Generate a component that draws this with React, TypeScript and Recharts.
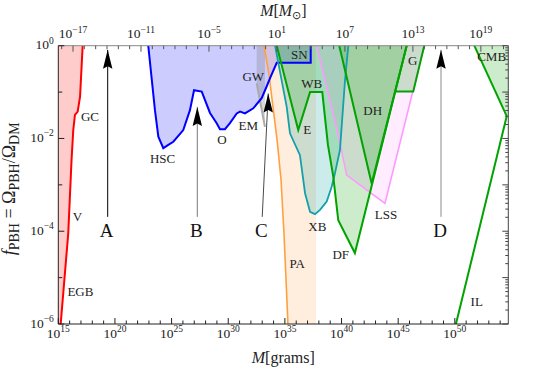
import React from "react";
import { ComposedChart, XAxis, YAxis, Area, Line, Scatter } from "recharts";

const SERIF = '"Liberation Serif", "Times New Roman", serif';
const LOG_MSUN = 33.2986; // log10 of solar mass in grams

// all values are log10: x = log10(M / grams), y = log10(f_PBH)
const gramDomain = [15, 54.72];
const solarDomain = [gramDomain[0] - LOG_MSUN, gramDomain[1] - LOG_MSUN];
const gramTicks = Array.from({ length: 40 }, (_, i) => 15 + i);
const solarTicks = Array.from({ length: 40 }, (_, i) => -18 + i);
const fTicks = [-6, -5, -4, -3, -2, -1, 0];
const rightTicks: number[] = [0];
for (let n = -6; n < 0; n++) for (let k = 1; k <= 9; k++) rightTicks.push(n + Math.log10(k));

// evaporation (EGB, V, GC)
const evaporation = [
  { x: 15, y: -6 },
  { x: 15.21, y: -6 },
  { x: 15.88, y: -4.04 },
  { x: 16.17, y: -2.46 },
  { x: 16.32, y: -1.82 },
  { x: 16.47, y: -1.49 },
  { x: 16.71, y: -1.42 },
  { x: 16.92, y: -1.1 },
  { x: 17.15, y: 0 },
];

// microlensing (HSC, O, EM) and SN box
const lensing = [
  { x: 22.94, y: 0 },
  { x: 23.53, y: -1.39 },
  { x: 23.83, y: -1.96 },
  { x: 24.27, y: -2.21 },
  { x: 24.71, y: -2.14 },
  { x: 25.15, y: -2.07 },
  { x: 26.03, y: -1.82 },
  { x: 26.62, y: -1.39 },
  { x: 26.98, y: -0.96 },
  { x: 27.66, y: -0.99 },
  { x: 28.39, y: -1.45 },
  { x: 28.98, y: -1.67 },
  { x: 29.27, y: -1.8 },
  { x: 29.71, y: -1.8 },
  { x: 30.15, y: -1.67 },
  { x: 30.75, y: -1.46 },
  { x: 31.04, y: -1.42 },
  { x: 31.48, y: -1.46 },
  { x: 32.21, y: -1.35 },
  { x: 32.95, y: -1.13 },
  { x: 33.39, y: -0.88 },
  { x: 33.69, y: -0.7 },
  { x: 34.28, y: -0.37 },
  { x: 37.28, y: -0.37 },
  { x: 37.28, y: 0 },
];

const gravWaves = [
  { x: 32.51, y: -0.81 },
  { x: 33.24, y: -1.75 },
];

const accretionPA = [
  { x: 33.16, y: 0 },
  { x: 33.6, y: -0.63 },
  { x: 34.31, y: -2.03 },
  { x: 34.66, y: -2.89 },
  { x: 34.92, y: -4.04 },
  { x: 35.27, y: -6 },
  { x: 37.74, y: -6 },
];

const xrayBinaries = [
  { x: 34.13, y: 0 },
  { x: 35.16, y: -1.32 },
  { x: 35.45, y: -1.89 },
  { x: 36.33, y: -2.36 },
  { x: 36.78, y: -3.18 },
  { x: 37.22, y: -3.58 },
  { x: 37.66, y: -3.63 },
  { x: 38.1, y: -3.54 },
  { x: 38.69, y: -3.36 },
  { x: 39.13, y: -3.04 },
  { x: 39.42, y: -2.75 },
  { x: 39.86, y: -2.25 },
  { x: 40.31, y: -0.74 },
  { x: 40.6, y: 0 },
];

const largeScale = [
  { x: 37.81, y: 0 },
  { x: 39.8, y: -2.03 },
  { x: 40.45, y: -2.79 },
  { x: 43.83, y: -3.4 },
  { x: 47.3, y: 0 },
];

// E, WB, DF
const dynamical = [
  { x: 34.28, y: 0 },
  { x: 36.18, y: -1.82 },
  { x: 37.22, y: -1.0 },
  { x: 38.3, y: -1.0 },
  { x: 38.8, y: -2.14 },
  { x: 39.27, y: -2.82 },
  { x: 39.71, y: -3.76 },
  { x: 41.18, y: -4.47 },
  { x: 45.75, y: 0 },
];

const dwarfHalo = [
  { x: 39.8, y: 0 },
  { x: 42.66, y: -2.97 },
  { x: 45.75, y: 0 },
];

const galaxies = [
  { x: 44.72, y: -0.99, top: -0.99 },
  { x: 45.75, y: -0.99 },
  { x: 46.33, y: -0.99 },
  { x: 47.3, y: 0 },
];

const cmb = [
  { x: 51.72, y: 0 },
  { x: 54.58, y: -1.52 },
  { x: 54.72, y: -1.55 },
];

const ilLine = [
  { x: 50.1, y: -6 },
  { x: 54.58, y: -1.52 },
];

const regionLabels = [
  { x: 17.8, y: -1.52, text: "GC" },
  { x: 16.68, y: -3.69, text: "V" },
  { x: 16.95, y: -5.3, text: "EGB" },
  { x: 24.21, y: -2.43, text: "HSC" },
  { x: 29.45, y: -2.03, text: "O" },
  { x: 31.77, y: -1.71, text: "EM" },
  { x: 32.21, y: -0.67, text: "GW" },
  { x: 36.27, y: -0.2, text: "SN" },
  { x: 37.37, y: -0.81, text: "WB" },
  { x: 36.98, y: -1.8, text: "E" },
  { x: 42.75, y: -1.39, text: "DH" },
  { x: 46.28, y: -0.31, text: "G" },
  { x: 53.25, y: -0.24, text: "CMB" },
  { x: 37.86, y: -3.89, text: "XB" },
  { x: 36.09, y: -4.69, text: "PA" },
  { x: 39.93, y: -4.5, text: "DF" },
  { x: 43.92, y: -3.63, text: "LSS" },
  { x: 51.93, y: -5.52, text: "IL" },
];

const arrowNames = ["A", "B", "C", "D"];
const arrowBase = [
  { x: 19.36, y: -3.69 },
  { x: 27.27, y: -3.69 },
  { x: 33.0, y: -3.69 },
  { x: 48.78, y: -3.69 },
];
const arrowTip = [
  { x: 19.36, y: -0.09 },
  { x: 27.27, y: -1.32 },
  { x: 33.53, y: -1.03 },
  { x: 48.78, y: -0.09 },
];
const arrowColors = ["#000000", "#7a7a7a", "#4a4a4a", "#8a8a8a"];

// corners of the solar-mass axis so that it has something bound to it
const solarFrame = [
  { x: solarDomain[0], y: -6 },
  { x: solarDomain[1], y: 0 },
];

const band = (d: any) => [d.y, d.top ?? 0];
const exp = (n: number) => (n < 0 ? "\u2212" + Math.abs(n) : String(n));

const TICK_FS = 13.5;
const SUP_FS = 9.5;

const BottomTick = (p: any) => {
  const v = Math.round(p.payload.value);
  const major = v % 5 === 0;
  return (
    <g>
      <line x1={p.x} x2={p.x} y1={p.y} y2={p.y - (major ? 6 : 3.5)} stroke="#222" />
      {major && (
        <text x={p.x} y={p.y + 13.5} textAnchor="middle" fontSize={TICK_FS} fontFamily={SERIF} fill="#222">
          10<tspan dy={-5.5} fontSize={SUP_FS}>{exp(v)}</tspan>
        </text>
      )}
    </g>
  );
};

const TopTick = (p: any) => {
  const v = Math.round(p.payload.value);
  const major = (((v + 17) % 6) + 6) % 6 === 0;
  return (
    <g>
      <line x1={p.x} x2={p.x} y1={p.y} y2={p.y + (major ? 6 : 3.5)} stroke="#555" />
      {major && (
        <text x={p.x} y={p.y - 7.5} textAnchor="middle" fontSize={TICK_FS} fontFamily={SERIF} fill="#222">
          10<tspan dy={-5.5} fontSize={SUP_FS}>{exp(v)}</tspan>
        </text>
      )}
    </g>
  );
};

const LeftTick = (p: any) => {
  const v = Math.round(p.payload.value);
  const labeled = v % 2 === 0;
  return (
    <g>
      <line x1={p.x} x2={p.x + (labeled ? 6 : 4)} y1={p.y} y2={p.y} stroke="#222" />
      {labeled && (
        <text x={p.x - 4.5} y={p.y + 3.5} textAnchor="end" fontSize={TICK_FS} fontFamily={SERIF} fill="#222">
          10<tspan dy={-5.5} fontSize={SUP_FS}>{exp(v)}</tspan>
        </text>
      )}
    </g>
  );
};

const RightTick = (p: any) => {
  const v = p.payload.value;
  const major = Math.abs(v - Math.round(v)) < 1e-6;
  return <line x1={p.x} x2={p.x - (major ? 6 : 3)} y1={p.y} y2={p.y} stroke="#444" />;
};

const RegionLabel = (p: any) => (
  <text x={p.cx} y={p.cy} textAnchor="middle" dominantBaseline="central" fontSize={13} fontFamily={SERIF} fill="#222">
    {p.payload.text}
  </text>
);

const ArrowDot = (p: any) => {
  if (p.index === 1) {
    const { cx, cy } = p;
    return (
      <path
        key={`tip-${cx}`}
        d={`M${cx},${cy} L${cx - 4.7},${cy + 19} L${cx},${cy + 16.5} L${cx + 4.7},${cy + 19} Z`}
        fill="#000"
      />
    );
  }
  return (
    <text key={`lab-${p.cx}`} x={p.cx - 1} y={p.cy + 14} textAnchor="middle" dominantBaseline="central" fontSize={19} fontFamily={SERIF} fill="#111">
      {p.payload.label}
    </text>
  );
};

const BottomTitle = (p: any) => {
  const vb = p.viewBox || { x: 58.3, y: 324, width: 450 };
  return (
    <text x={vb.x + vb.width / 2} y={vb.y + 39} textAnchor="middle" fontSize={16} fontFamily={SERIF} fill="#222">
      <tspan fontStyle="italic">M</tspan>[grams]
    </text>
  );
};

const TopTitle = (p: any) => {
  const vb = p.viewBox || { x: 58.3, y: 15.7, width: 450, height: 30 };
  return (
    <text x={vb.x + vb.width / 2} y={vb.y + vb.height - 30} textAnchor="middle" fontSize={16} fontFamily={SERIF} fill="#222">
      <tspan fontStyle="italic">M</tspan>[<tspan fontStyle="italic">M</tspan>
      <tspan dy={3} fontSize={11}>{"\u2299"}</tspan>
      <tspan dy={-3}>]</tspan>
    </text>
  );
};

const LeftTitle = (p: any) => {
  const vb = p.viewBox || { x: 8.3, y: 45.7, width: 50, height: 278.3 };
  const cx = vb.x + 7;
  const cy = vb.y + vb.height / 2 + 4;
  return (
    <text transform={`rotate(-90 ${cx} ${cy})`} x={cx} y={cy} textAnchor="middle" fontSize={18} fontFamily={SERIF} fill="#222">
      <tspan fontStyle="italic">f</tspan>
      <tspan dy={3.5} fontSize={14}>PBH</tspan>
      <tspan dy={-3.5}>{" = \u03A9"}</tspan>
      <tspan dy={3.5} fontSize={14}>PBH</tspan>
      <tspan dy={-3.5}>/{"\u03A9"}</tspan>
      <tspan dy={3.5} fontSize={14}>DM</tspan>
    </text>
  );
};

const fills = [
  { data: evaporation, color: "#ff0000", op: 0.2 },
  { data: lensing, color: "#0000ff", op: 0.2 },
  { data: gravWaves, color: "#808080", op: 0.3 },
  { data: accretionPA, color: "#ff9a40", op: 0.18 },
  { data: xrayBinaries, color: "#00a0a0", op: 0.2 },
  { data: largeScale, color: "#ff66ff", op: 0.12 },
  { data: dynamical, color: "#00a000", op: 0.2 },
  { data: dwarfHalo, color: "#00a000", op: 0.2 },
  { data: galaxies, color: "#00a000", op: 0.2 },
  { data: cmb, color: "#00a000", op: 0.2 },
];

const outlines = [
  { data: accretionPA.slice(0, 6), color: "#ffa040", w: 1.6 },
  { data: largeScale, color: "#ff99ff", w: 1.6 },
  { data: gravWaves, color: "#aaaaaa", w: 2 },
  { data: evaporation.slice(1), color: "#ff0000", w: 2 },
  { data: lensing, color: "#0000ff", w: 2 },
  { data: xrayBinaries, color: "#14a0a8", w: 1.8 },
  { data: dynamical, color: "#00a300", w: 2 },
  { data: dwarfHalo, color: "#00a300", w: 2 },
  { data: galaxies, color: "#00a300", w: 2 },
  { data: cmb.slice(0, 2), color: "#00a300", w: 2 },
  { data: ilLine, color: "#00a300", w: 2 },
];

export default function App() {
  return (
    <div style={{ position: "absolute", left: 0, top: 0, background: "#fff" }}>
      <ComposedChart width={540} height={372} margin={{ top: 15.7, right: 21.7, bottom: 18, left: 8.3 }}>
        <XAxis
          xAxisId="g"
          type="number"
          dataKey="x"
          domain={gramDomain}
          allowDataOverflow
          ticks={gramTicks}
          interval={0}
          tickSize={0}
          tickMargin={0}
          tickLine={false}
          tick={BottomTick}
          axisLine={{ stroke: "#222" }}
          height={30}
          label={BottomTitle}
        />
        <XAxis
          xAxisId="sun"
          orientation="top"
          type="number"
          dataKey="x"
          domain={solarDomain}
          allowDataOverflow
          ticks={solarTicks}
          interval={0}
          tickSize={0}
          tickMargin={0}
          tickLine={false}
          tick={TopTick}
          axisLine={{ stroke: "#888" }}
          height={30}
          label={TopTitle}
        />
        <YAxis
          yAxisId="f"
          type="number"
          domain={[-6, 0]}
          allowDataOverflow
          ticks={fTicks}
          interval={0}
          tickSize={0}
          tickMargin={0}
          tickLine={false}
          tick={LeftTick}
          axisLine={{ stroke: "#222" }}
          width={50}
          label={LeftTitle}
        />
        <YAxis
          yAxisId="r"
          orientation="right"
          type="number"
          domain={[-6, 0]}
          allowDataOverflow
          ticks={rightTicks}
          interval={0}
          tickSize={0}
          tickMargin={0}
          tickLine={false}
          tick={RightTick}
          axisLine={{ stroke: "#444" }}
          width={10}
        />
        <Line
          data={solarFrame}
          dataKey="y"
          xAxisId="sun"
          yAxisId="r"
          stroke="none"
          dot={false}
          activeDot={false}
          isAnimationActive={false}
        />
        {fills.map((f, i) => (
          <Area
            key={`fill-${i}`}
            data={f.data}
            dataKey={band}
            xAxisId="g"
            yAxisId="f"
            type="linear"
            stroke="none"
            fill={f.color}
            fillOpacity={f.op}
            activeDot={false}
            isAnimationActive={false}
          />
        ))}
        {outlines.map((o, i) => (
          <Line
            key={`line-${i}`}
            data={o.data}
            dataKey="y"
            xAxisId="g"
            yAxisId="f"
            type="linear"
            stroke={o.color}
            strokeWidth={o.w}
            dot={false}
            activeDot={false}
            isAnimationActive={false}
          />
        ))}
        {arrowNames.map((name, i) => (
          <Line
            key={`arrow-${name}`}
            data={[{ ...arrowBase[i], label: name }, arrowTip[i]]}
            dataKey="y"
            xAxisId="g"
            yAxisId="f"
            type="linear"
            stroke={arrowColors[i]}
            strokeWidth={1}
            dot={ArrowDot}
            activeDot={false}
            isAnimationActive={false}
          />
        ))}
        <Scatter
          data={regionLabels}
          dataKey="y"
          xAxisId="g"
          yAxisId="f"
          shape={RegionLabel}
          isAnimationActive={false}
        />
      </ComposedChart>
    </div>
  );
}
